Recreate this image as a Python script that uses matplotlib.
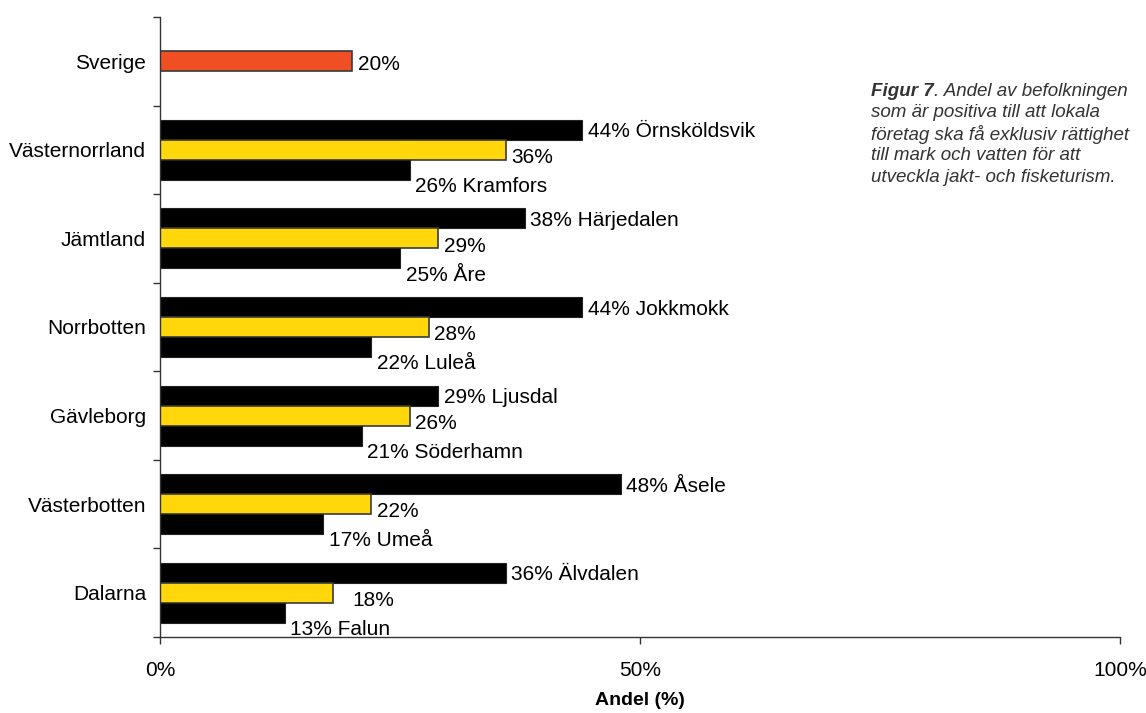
import matplotlib
matplotlib.use("Agg")
import matplotlib.pyplot as plt
import numpy as np

plt.rcParams['font.family'] = ['Liberation Sans', 'DejaVu Sans']

# ---- data (top to bottom) ----
regions = ["Sverige", "Västernorrland", "Jämtland", "Norrbotten", "Gävleborg", "Västerbotten", "Dalarna"]
sverige_value = 20
top_values = [44, 38, 44, 29, 48, 36]
top_names = ["Örnsköldsvik", "Härjedalen", "Jokkmokk", "Ljusdal", "Åsele", "Älvdalen"]
mid_values = [36, 29, 28, 26, 22, 18]
bottom_values = [26, 25, 22, 21, 17, 13]
bottom_names = ["Kramfors", "Åre", "Luleå", "Söderhamn", "Umeå", "Falun"]
x_ticks = [0, 50, 100]
x_tick_labels = ["0%", "50%", "100%"]

# ---- style ----
RED = "#F04E23"
YELLOW = "#FFD70A"
BLACK = "#000000"
EDGE = "#3a3a3a"
FS = 15
bh = 0.226

fig = plt.figure(figsize=(11.46, 7.13), dpi=100)
ax = fig.add_axes([160/1146, 1-637/713, 960/1146, 620/713])

n = len(regions)
centers = [n - i - 0.5 for i in range(n)]

# Sverige
ax.barh(centers[0], sverige_value, height=bh, color=RED, edgecolor=EDGE, linewidth=1.2)
ax.annotate(f"{sverige_value}%", (sverige_value, centers[0]), xytext=(4, -2),
            textcoords="offset points", va="center", ha="left", fontsize=FS)

mid_nudge = {5: 10}  # extra x offset (points) for a mid label

for k in range(len(top_values)):
    c = centers[k + 1]
    yt, ym, yb = c + bh, c, c - bh
    ax.barh(yt, top_values[k], height=bh, color=BLACK, edgecolor="#222222", linewidth=0.8)
    ax.barh(ym, mid_values[k], height=bh, color=YELLOW, edgecolor=EDGE, linewidth=1.2)
    ax.barh(yb, bottom_values[k], height=bh, color=BLACK, edgecolor="#222222", linewidth=0.8)
    ax.annotate(f"{top_values[k]}% {top_names[k]}", (top_values[k], yt), xytext=(4, -1.5),
                textcoords="offset points", va="center", ha="left", fontsize=FS)
    ax.annotate(f"{mid_values[k]}%", (mid_values[k], ym), xytext=(4 + mid_nudge.get(k, 0), -5.5),
                textcoords="offset points", va="center", ha="left", fontsize=FS)
    ax.annotate(f"{bottom_values[k]}% {bottom_names[k]}", (bottom_values[k], yb), xytext=(4, -12),
                textcoords="offset points", va="center", ha="left", fontsize=FS)

ax.set_xlim(0, 100)
ax.set_ylim(0, n)

# axes styling
for s in ["top", "right"]:
    ax.spines[s].set_visible(False)
ax.spines["left"].set_color("#333333")
ax.spines["bottom"].set_color("#333333")
ax.spines["left"].set_linewidth(1.0)
ax.spines["bottom"].set_linewidth(1.0)

ax.set_xticks(x_ticks)
ax.set_xticklabels(x_tick_labels, fontsize=FS)
ax.tick_params(axis="x", direction="out", length=5, width=1, color="#333333", pad=12)

ax.set_yticks(np.arange(0, n + 1))
ax.set_yticklabels([])
ax.tick_params(axis="y", which="major", direction="out", length=5, width=1, color="#333333")
ax.set_yticks(centers, minor=True)
ax.set_yticklabels(regions, minor=True, fontsize=FS)
ax.tick_params(axis="y", which="minor", length=0, pad=10)

ax.set_xlabel("Andel (%)", fontsize=FS - 1, fontweight="bold", labelpad=9)

# caption
lh = 21.5 / 713
x0 = 871 / 1146
y0 = 1 - 91 / 713
cfs = 13.5
ccol = "#333333"
t1 = fig.text(x0, y0, "Figur 7", fontsize=cfs, fontstyle="italic", fontweight="bold",
              va="center", ha="left", color=ccol)
ax.annotate(". Andel av befolkningen", xy=(1, 0), xycoords=t1, va="bottom", ha="left",
            fontsize=cfs, fontstyle="italic", color=ccol, annotation_clip=False)
rest = ["som är positiva till att lokala",
        "företag ska få exklusiv rättighet",
        "till mark och vatten för att",
        "utveckla jakt- och fisketurism."]
for i, line in enumerate(rest):
    fig.text(x0, y0 - (i + 1) * lh, line, fontsize=cfs, fontstyle="italic",
             va="center", ha="left", color=ccol)

fig.savefig("out.png", dpi=100)
